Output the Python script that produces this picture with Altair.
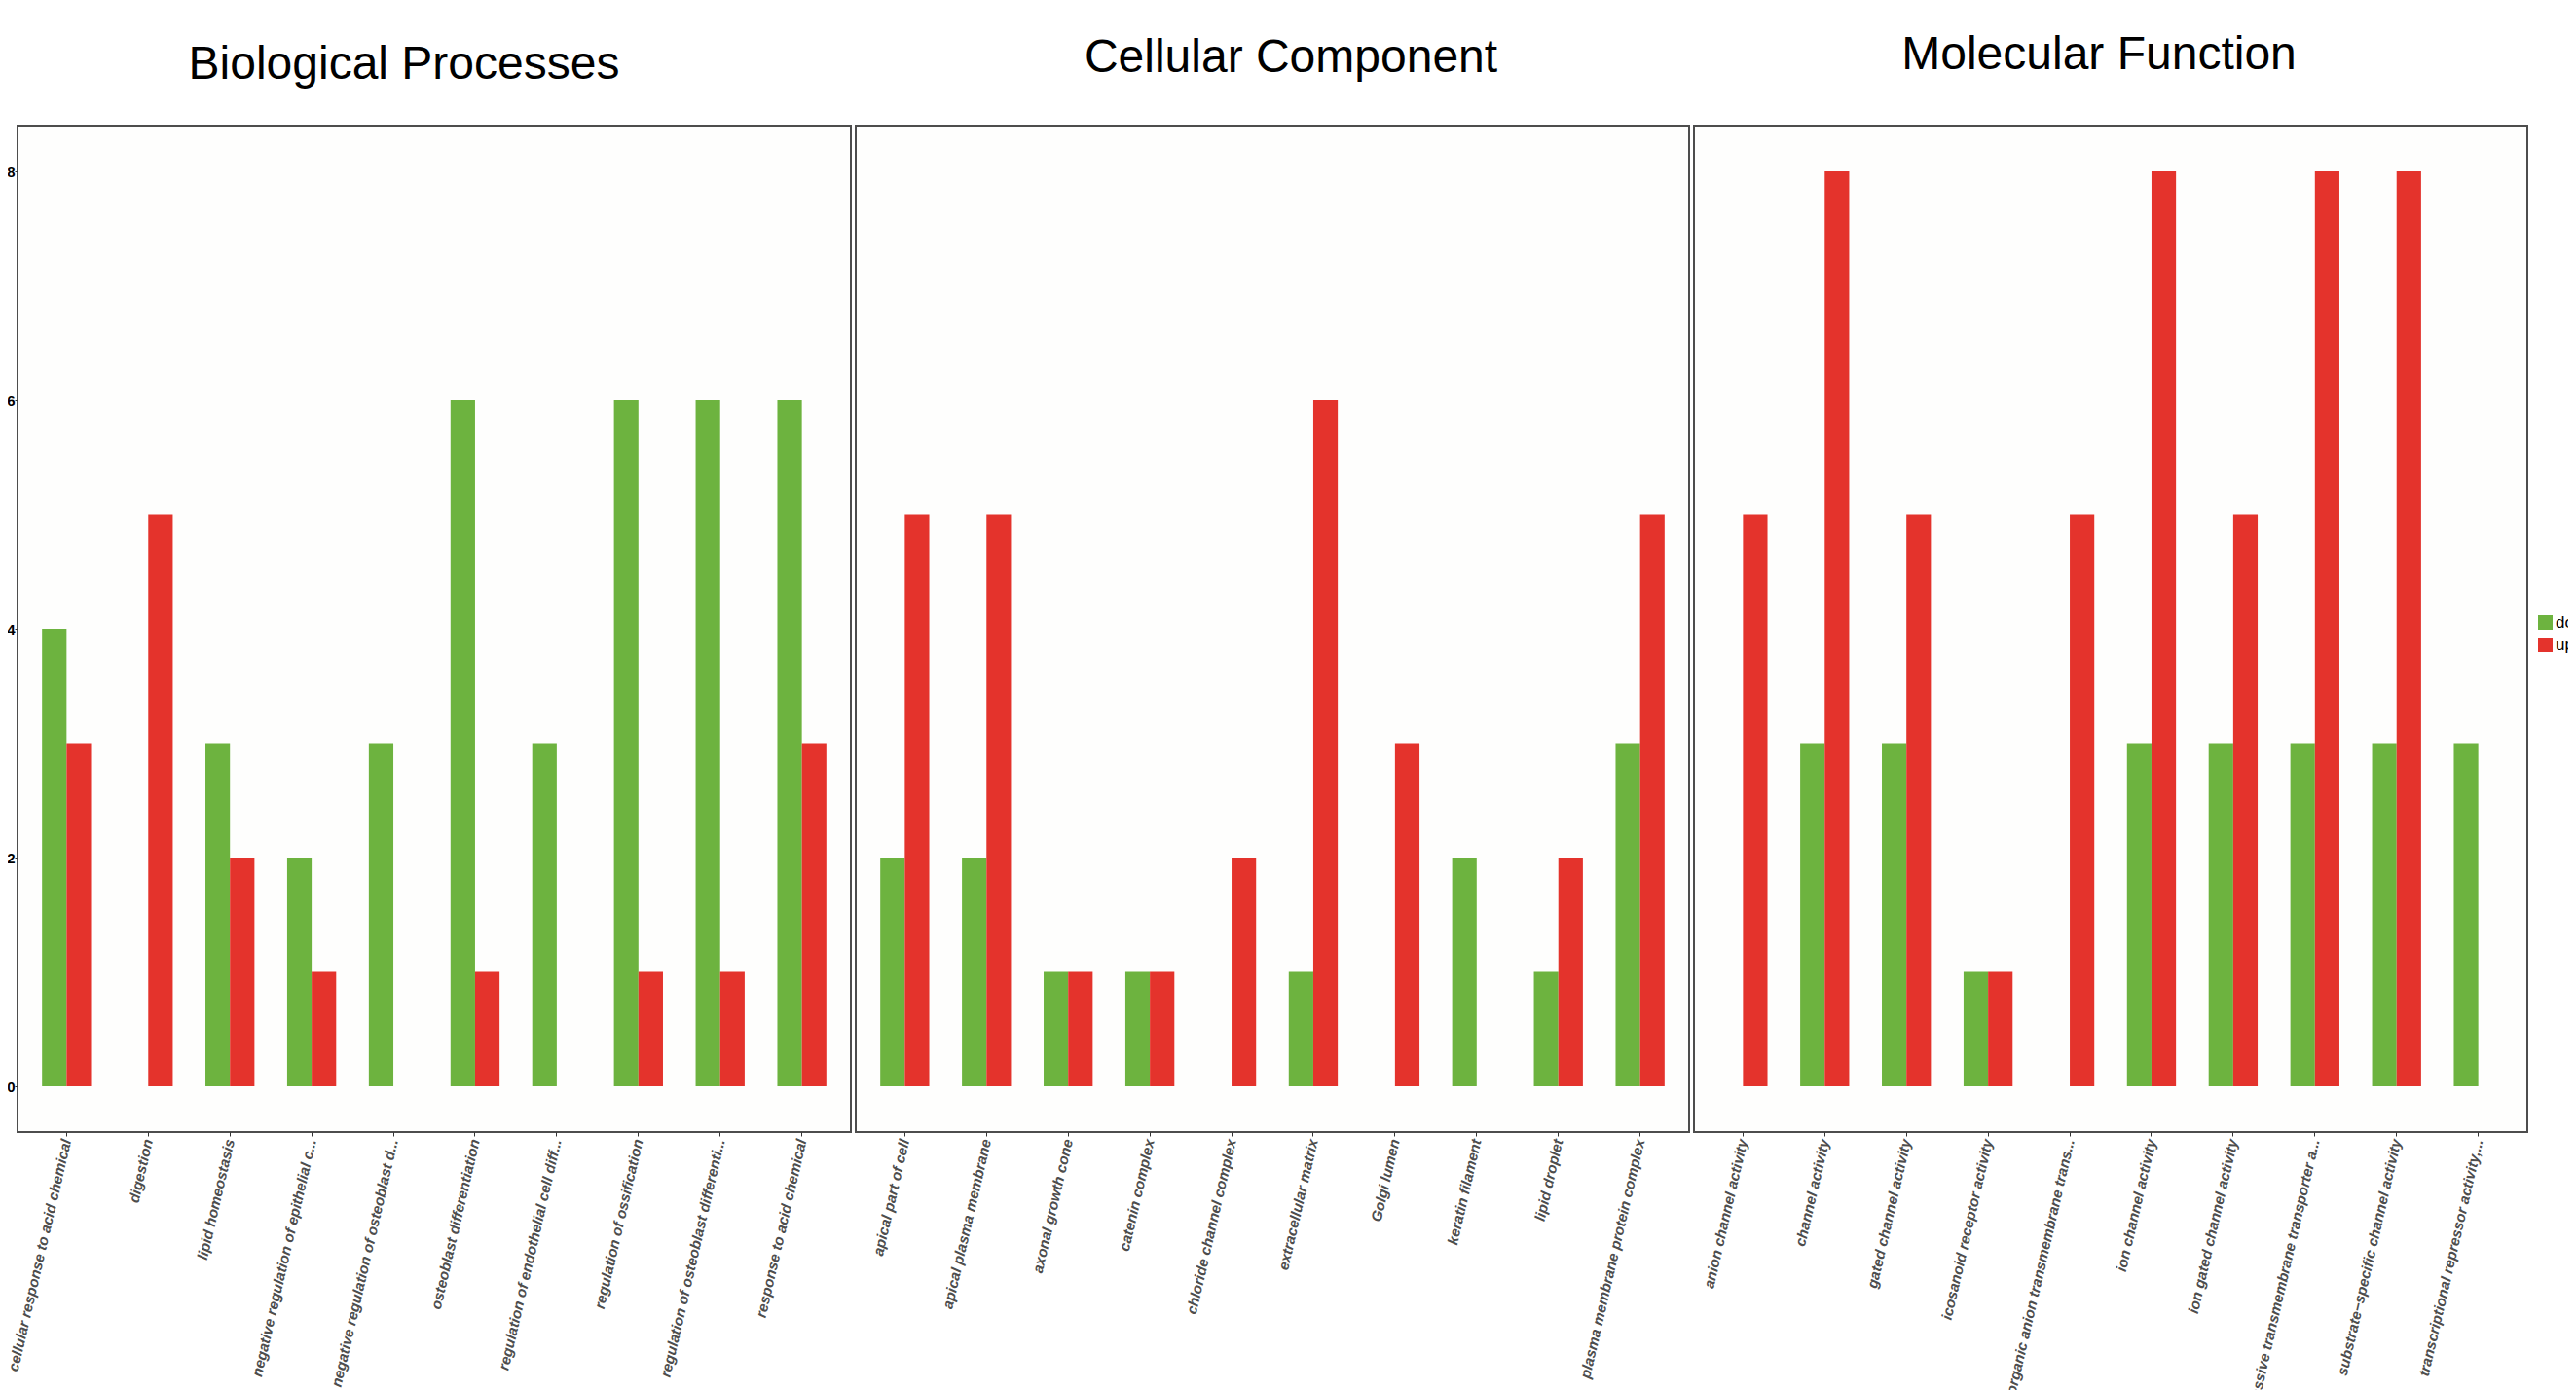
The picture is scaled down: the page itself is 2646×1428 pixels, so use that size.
import altair as alt
import pandas as pd

directions = ["down", "up"]
dir_colors = ["#6db33f", "#e4332c"]

bp_terms = [
    "cellular response to acid chemical",
    "digestion",
    "lipid homeostasis",
    "negative regulation of epithelial c...",
    "negative regulation of osteoblast d...",
    "osteoblast differentiation",
    "regulation of endothelial cell diff...",
    "regulation of ossification",
    "regulation of osteoblast differenti...",
    "response to acid chemical",
]
bp_down = [4, 0, 3, 2, 3, 6, 3, 6, 6, 6]
bp_up = [3, 5, 2, 1, 0, 1, 0, 1, 1, 3]

cc_terms = [
    "apical part of cell",
    "apical plasma membrane",
    "axonal growth cone",
    "catenin complex",
    "chloride channel complex",
    "extracellular matrix",
    "Golgi lumen",
    "keratin filament",
    "lipid droplet",
    "plasma membrane protein complex",
]
cc_down = [2, 2, 1, 1, 0, 1, 0, 2, 1, 3]
cc_up = [5, 5, 1, 1, 2, 6, 3, 0, 2, 5]

mf_terms = [
    "anion channel activity",
    "channel activity",
    "gated channel activity",
    "icosanoid receptor activity",
    "organic anion transmembrane trans...",
    "ion channel activity",
    "ion gated channel activity",
    "passive transmembrane transporter a...",
    "substrate\u2212specific channel activity",
    "transcriptional repressor activity,...",
]
mf_down = [0, 3, 3, 1, 0, 3, 3, 3, 3, 3]
mf_up = [5, 8, 5, 1, 5, 8, 5, 8, 8, 0]

titles = ["Biological Processes", "Cellular Component", "Molecular Function"]
title_dx = [-31, 19, -12]
title_offset = [38, 45, 48]

W, H = 856, 1034


def make_df(terms, down, up):
    rows = []
    for t, d, u in zip(terms, down, up):
        rows.append({"term": t, "dir": "down", "count": d})
        rows.append({"term": t, "dir": "up", "count": u})
    return pd.DataFrame(rows)


def panel(terms, down, up, title, dx, offset, show_y):
    df = make_df(terms, down, up)
    yaxis = (
        alt.Axis(
            values=[0, 2, 4, 6, 8],
            grid=False,
            domain=False,
            ticks=True,
            tickSize=3,
            tickColor="#333333",
            labelFontSize=15,
            labelFontWeight="bold",
            labelColor="#000000",
            labelFont="Liberation Sans",
            labelPadding=0,
            title=None,
        )
        if show_y
        else None
    )
    return (
        alt.Chart(df)
        .mark_bar()
        .encode(
            x=alt.X(
                "term:N",
                sort=terms,
                scale=alt.Scale(paddingInner=0.4, paddingOuter=0.3),
                axis=alt.Axis(
                    title=None,
                    domain=False,
                    grid=False,
                    ticks=True,
                    tickSize=4,
                    tickColor="#333333",
                    labelAngle=283,
                    labelAlign="right",
                    labelBaseline="middle",
                    labelFont="Liberation Sans",
                    labelFontSize=15,
                    labelFontWeight="bold",
                    labelFontStyle="italic",
                    labelColor="#4d4d4d",
                    labelPadding=3,
                    labelLimit=600,
                ),
            ),
            xOffset=alt.XOffset("dir:N", sort=directions),
            y=alt.Y(
                "count:Q",
                stack=None,
                scale=alt.Scale(domain=[-0.4, 8.4], nice=False, zero=False),
                axis=yaxis,
            ),
            y2=alt.datum(0),
            color=alt.Color(
                "dir:N",
                scale=alt.Scale(domain=directions, range=dir_colors),
                legend=alt.Legend(
                    title=None,
                    orient="none",
                    legendX=2588,
                    legendY=502,
                    symbolType="square",
                    symbolSize=225,
                    symbolStrokeWidth=0,
                    labelFontSize=17,
                    labelFont="Liberation Sans",
                    labelColor="#000000",
                    labelOffset=2,
                    rowPadding=5,
                    padding=0,
                ),
            ),
        )
        .properties(
            width=W,
            height=H,
            title=alt.TitleParams(
                text=title,
                fontSize=48,
                font="Liberation Sans",
                fontWeight="normal",
                color="#000000",
                anchor="middle",
                dx=dx,
                offset=offset,
            ),
        )
    )


p1 = panel(bp_terms, bp_down, bp_up, titles[0], title_dx[0], title_offset[0], True)
p2 = panel(cc_terms, cc_down, cc_up, titles[1], title_dx[1], title_offset[1], False)
p3 = panel(mf_terms, mf_down, mf_up, titles[2], title_dx[2], title_offset[2], False)

chart = (
    alt.hconcat(p1, p2, p3, spacing=5)
    .properties(
        autosize=alt.AutoSizeParams(type="none"),
        padding={"left": 10, "top": 121, "right": 2620, "bottom": 1291},
        bounds="flush",
        background="#ffffff",
    )
    .configure_view(stroke="#4d4d4d", strokeWidth=2, fill="#fefefd")
)

chart.save("out.html", embed_options={"renderer": "svg", "actions": False})
